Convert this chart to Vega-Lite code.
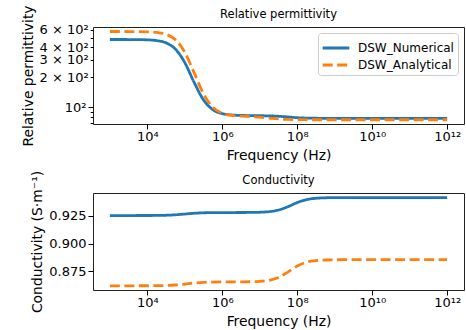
{
  "$schema": "https://vega.github.io/schema/vega-lite/v6.json",
  "padding": {"left": 20, "top": 4, "right": 0, "bottom": 0},
  "spacing": 69,
  "bounds": "flush",
  "config": {
    "font": "DejaVu Sans",
    "view": {"stroke": "#222", "strokeWidth": 1},
    "axis": {"grid": false, "domain": false, "tickColor": "#000", "tickSize": 5, "tickWidth": 1, "labelFontSize": 13, "titleFontSize": 13.9, "labelColor": "#000", "titleColor": "#000", "titleFontWeight": "normal", "labelPadding": 2, "titlePadding": 4, "labelOverlap": false},
    "axisX": {"labelPadding": 1, "titlePadding": 5},
    "title": {"fontSize": 11.5, "fontWeight": "normal", "color": "#000", "offset": -16, "frame": "group"}
  },
  "resolve": {"legend": {"color": "independent", "strokeDash": "independent"}},
  "datasets": {
    "perm": [
      {"series": "DSW_Numerical", "freq": 1000, "value": 477.8},
      {"series": "DSW_Numerical", "freq": 1778.3, "value": 477.7},
      {"series": "DSW_Numerical", "freq": 3162.3, "value": 477.4},
      {"series": "DSW_Numerical", "freq": 5623.4, "value": 476.5},
      {"series": "DSW_Numerical", "freq": 1e4, "value": 473.9},
      {"series": "DSW_Numerical", "freq": 1.7783e4, "value": 465.7},
      {"series": "DSW_Numerical", "freq": 3.1623e4, "value": 441.9},
      {"series": "DSW_Numerical", "freq": 5.6234e4, "value": 382.9},
      {"series": "DSW_Numerical", "freq": 1e5, "value": 280.3},
      {"series": "DSW_Numerical", "freq": 1.7783e5, "value": 177.7},
      {"series": "DSW_Numerical", "freq": 3.1623e5, "value": 118.7},
      {"series": "DSW_Numerical", "freq": 5.6234e5, "value": 94.9},
      {"series": "DSW_Numerical", "freq": 1e6, "value": 86.7},
      {"series": "DSW_Numerical", "freq": 1.7783e6, "value": 84.1},
      {"series": "DSW_Numerical", "freq": 3.1623e6, "value": 83.2},
      {"series": "DSW_Numerical", "freq": 5.6234e6, "value": 82.9},
      {"series": "DSW_Numerical", "freq": 1e7, "value": 82.65},
      {"series": "DSW_Numerical", "freq": 1.7783e7, "value": 82.35},
      {"series": "DSW_Numerical", "freq": 3.1623e7, "value": 81.6},
      {"series": "DSW_Numerical", "freq": 5.6234e7, "value": 80.3},
      {"series": "DSW_Numerical", "freq": 1e8, "value": 79.0},
      {"series": "DSW_Numerical", "freq": 1.7783e8, "value": 78.25},
      {"series": "DSW_Numerical", "freq": 3.1623e8, "value": 77.95},
      {"series": "DSW_Numerical", "freq": 5.6234e8, "value": 77.85},
      {"series": "DSW_Numerical", "freq": 1e9, "value": 77.8},
      {"series": "DSW_Numerical", "freq": 3.1623e9, "value": 77.8},
      {"series": "DSW_Numerical", "freq": 1e10, "value": 77.8},
      {"series": "DSW_Numerical", "freq": 1e11, "value": 77.8},
      {"series": "DSW_Numerical", "freq": 1e12, "value": 77.8},
      {"series": "DSW_Analytical", "freq": 1000, "value": 574.3},
      {"series": "DSW_Analytical", "freq": 1778.3, "value": 574.2},
      {"series": "DSW_Analytical", "freq": 3162.3, "value": 573.9},
      {"series": "DSW_Analytical", "freq": 5623.4, "value": 573.1},
      {"series": "DSW_Analytical", "freq": 1e4, "value": 570.4},
      {"series": "DSW_Analytical", "freq": 1.7783e4, "value": 562.2},
      {"series": "DSW_Analytical", "freq": 3.1623e4, "value": 538.0},
      {"series": "DSW_Analytical", "freq": 5.6234e4, "value": 475.3},
      {"series": "DSW_Analytical", "freq": 1e5, "value": 356.0},
      {"series": "DSW_Analytical", "freq": 1.7783e5, "value": 221.7},
      {"series": "DSW_Analytical", "freq": 3.1623e5, "value": 136.4},
      {"series": "DSW_Analytical", "freq": 5.6234e5, "value": 100.2},
      {"series": "DSW_Analytical", "freq": 1e6, "value": 87.4},
      {"series": "DSW_Analytical", "freq": 1.7783e6, "value": 83.2},
      {"series": "DSW_Analytical", "freq": 3.1623e6, "value": 81.7},
      {"series": "DSW_Analytical", "freq": 5.6234e6, "value": 81.0},
      {"series": "DSW_Analytical", "freq": 1e7, "value": 79.9},
      {"series": "DSW_Analytical", "freq": 1.7783e7, "value": 78.3},
      {"series": "DSW_Analytical", "freq": 3.1623e7, "value": 76.7},
      {"series": "DSW_Analytical", "freq": 5.6234e7, "value": 75.85},
      {"series": "DSW_Analytical", "freq": 1e8, "value": 75.5},
      {"series": "DSW_Analytical", "freq": 1.7783e8, "value": 75.36},
      {"series": "DSW_Analytical", "freq": 3.1623e8, "value": 75.3},
      {"series": "DSW_Analytical", "freq": 1e9, "value": 75.3},
      {"series": "DSW_Analytical", "freq": 1e10, "value": 75.3},
      {"series": "DSW_Analytical", "freq": 1e11, "value": 75.3},
      {"series": "DSW_Analytical", "freq": 1e12, "value": 75.3}
    ],
    "cond": [
      {"series": "DSW_Numerical", "freq": 1000, "value": 0.9253},
      {"series": "DSW_Numerical", "freq": 3162.3, "value": 0.9253},
      {"series": "DSW_Numerical", "freq": 1e4, "value": 0.92533},
      {"series": "DSW_Numerical", "freq": 1.7783e4, "value": 0.92538},
      {"series": "DSW_Numerical", "freq": 3.1623e4, "value": 0.92555},
      {"series": "DSW_Numerical", "freq": 5.6234e4, "value": 0.92595},
      {"series": "DSW_Numerical", "freq": 1e5, "value": 0.92665},
      {"series": "DSW_Numerical", "freq": 1.7783e5, "value": 0.92735},
      {"series": "DSW_Numerical", "freq": 3.1623e5, "value": 0.92775},
      {"series": "DSW_Numerical", "freq": 5.6234e5, "value": 0.92792},
      {"series": "DSW_Numerical", "freq": 1e6, "value": 0.9280},
      {"series": "DSW_Numerical", "freq": 1.7783e6, "value": 0.9280},
      {"series": "DSW_Numerical", "freq": 3.1623e6, "value": 0.92803},
      {"series": "DSW_Numerical", "freq": 5.6234e6, "value": 0.92809},
      {"series": "DSW_Numerical", "freq": 1e7, "value": 0.92826},
      {"series": "DSW_Numerical", "freq": 1.7783e7, "value": 0.9288},
      {"series": "DSW_Numerical", "freq": 3.1623e7, "value": 0.93025},
      {"series": "DSW_Numerical", "freq": 5.6234e7, "value": 0.93322},
      {"series": "DSW_Numerical", "freq": 1e8, "value": 0.93699},
      {"series": "DSW_Numerical", "freq": 1.7783e8, "value": 0.93965},
      {"series": "DSW_Numerical", "freq": 3.1623e8, "value": 0.94086},
      {"series": "DSW_Numerical", "freq": 5.6234e8, "value": 0.94129},
      {"series": "DSW_Numerical", "freq": 1e9, "value": 0.94143},
      {"series": "DSW_Numerical", "freq": 3.1623e9, "value": 0.9415},
      {"series": "DSW_Numerical", "freq": 1e10, "value": 0.9415},
      {"series": "DSW_Numerical", "freq": 1e11, "value": 0.9415},
      {"series": "DSW_Numerical", "freq": 1e12, "value": 0.9415},
      {"series": "DSW_Analytical", "freq": 1000, "value": 0.8620},
      {"series": "DSW_Analytical", "freq": 3162.3, "value": 0.8620},
      {"series": "DSW_Analytical", "freq": 1e4, "value": 0.86203},
      {"series": "DSW_Analytical", "freq": 1.7783e4, "value": 0.86209},
      {"series": "DSW_Analytical", "freq": 3.1623e4, "value": 0.86226},
      {"series": "DSW_Analytical", "freq": 5.6234e4, "value": 0.8627},
      {"series": "DSW_Analytical", "freq": 1e5, "value": 0.86355},
      {"series": "DSW_Analytical", "freq": 1.7783e5, "value": 0.8645},
      {"series": "DSW_Analytical", "freq": 3.1623e5, "value": 0.86511},
      {"series": "DSW_Analytical", "freq": 5.6234e5, "value": 0.86537},
      {"series": "DSW_Analytical", "freq": 1e6, "value": 0.86547},
      {"series": "DSW_Analytical", "freq": 1.7783e6, "value": 0.8655},
      {"series": "DSW_Analytical", "freq": 3.1623e6, "value": 0.86555},
      {"series": "DSW_Analytical", "freq": 5.6234e6, "value": 0.86566},
      {"series": "DSW_Analytical", "freq": 1e7, "value": 0.86599},
      {"series": "DSW_Analytical", "freq": 1.7783e7, "value": 0.86697},
      {"series": "DSW_Analytical", "freq": 3.1623e7, "value": 0.86952},
      {"series": "DSW_Analytical", "freq": 5.6234e7, "value": 0.87435},
      {"series": "DSW_Analytical", "freq": 1e8, "value": 0.87981},
      {"series": "DSW_Analytical", "freq": 1.7783e8, "value": 0.88326},
      {"series": "DSW_Analytical", "freq": 3.1623e8, "value": 0.88473},
      {"series": "DSW_Analytical", "freq": 5.6234e8, "value": 0.88525},
      {"series": "DSW_Analytical", "freq": 1e9, "value": 0.88542},
      {"series": "DSW_Analytical", "freq": 3.1623e9, "value": 0.8855},
      {"series": "DSW_Analytical", "freq": 1e10, "value": 0.8855},
      {"series": "DSW_Analytical", "freq": 1e11, "value": 0.8855},
      {"series": "DSW_Analytical", "freq": 1e12, "value": 0.8855}
    ]
  },
  "vconcat": [
    {
      "title": "Relative permittivity",
      "width": 371,
      "height": 97,
      "data": {"name": "perm"},
      "mark": {"type": "line", "strokeWidth": 2.8, "interpolate": "monotone", "clip": true},
      "encoding": {
        "x": {"field": "freq", "type": "quantitative",
          "scale": {"type": "log", "domain": [354.8, 2.818e12], "nice": false},
          "axis": {"title": "Frequency (Hz)", "values": [1e4, 1e6, 1e8, 1e10, 1e12], "labelFlush": false,
            "labelExpr": "round(log(datum.value)/LN10) == 4 ? '10⁴' : round(log(datum.value)/LN10) == 6 ? '10⁶' : round(log(datum.value)/LN10) == 8 ? '10⁸' : round(log(datum.value)/LN10) == 10 ? '10¹⁰' : '10¹²'"}},
        "y": {"field": "value", "type": "quantitative",
          "scale": {"type": "log", "domain": [68.3, 637], "nice": false},
          "axis": {"title": "Relative permittivity", "values": [70, 80, 90, 100, 200, 300, 400, 500, 600],
            "tickSize": {"condition": {"test": "datum.value == 100", "value": 5}, "value": 2.8},
            "labelExpr": "datum.value == 100 ? '10²' : datum.value == 200 ? '2 × 10²' : datum.value == 300 ? '3 × 10²' : datum.value == 400 ? '4 × 10²' : datum.value == 600 ? '6 × 10²' : ''"}},
        "color": {"field": "series", "type": "nominal",
          "scale": {"domain": ["DSW_Numerical", "DSW_Analytical"], "range": ["#1f77b4", "#ff7f0e"]},
          "legend": {"orient": "top-right", "offset": 6, "title": null, "symbolType": "M-1.4,0H1.4", "symbolSize": 361, "symbolStrokeWidth": 2.8, "symbolOffset": 3, "labelFontSize": 12, "labelColor": "#000", "fillColor": "white", "strokeColor": "#ccc", "cornerRadius": 3, "padding": 4, "rowPadding": 0, "labelOffset": 11}},
        "strokeDash": {"field": "series", "type": "nominal",
          "scale": {"domain": ["DSW_Numerical", "DSW_Analytical"], "range": [[1, 0], [10, 4.5]]},
          "legend": {"orient": "top-right", "offset": 6, "title": null, "symbolType": "M-1.4,0H1.4", "symbolSize": 361, "symbolStrokeWidth": 2.8, "symbolOffset": 3, "labelFontSize": 12, "labelColor": "#000", "fillColor": "white", "strokeColor": "#ccc", "cornerRadius": 3, "padding": 4, "rowPadding": 0, "labelOffset": 11}}
      }
    },
    {
      "title": "Conductivity",
      "width": 371,
      "height": 97,
      "data": {"name": "cond"},
      "mark": {"type": "line", "strokeWidth": 2.8, "interpolate": "monotone", "clip": true},
      "encoding": {
        "x": {"field": "freq", "type": "quantitative",
          "scale": {"type": "log", "domain": [354.8, 2.818e12], "nice": false},
          "axis": {"title": "Frequency (Hz)", "values": [1e4, 1e6, 1e8, 1e10, 1e12], "labelFlush": false,
            "labelExpr": "round(log(datum.value)/LN10) == 4 ? '10⁴' : round(log(datum.value)/LN10) == 6 ? '10⁶' : round(log(datum.value)/LN10) == 8 ? '10⁸' : round(log(datum.value)/LN10) == 10 ? '10¹⁰' : '10¹²'"}},
        "y": {"field": "value", "type": "quantitative",
          "scale": {"domain": [0.8582, 0.9456], "nice": false, "zero": false},
          "axis": {"title": "Conductivity (S·m⁻¹)", "values": [0.875, 0.9, 0.925], "format": ".3f"}},
        "color": {"field": "series", "type": "nominal",
          "scale": {"domain": ["DSW_Numerical", "DSW_Analytical"], "range": ["#1f77b4", "#ff7f0e"]},
          "legend": null},
        "strokeDash": {"field": "series", "type": "nominal",
          "scale": {"domain": ["DSW_Numerical", "DSW_Analytical"], "range": [[1, 0], [10, 4.5]]},
          "legend": null}
      }
    }
  ]
}
